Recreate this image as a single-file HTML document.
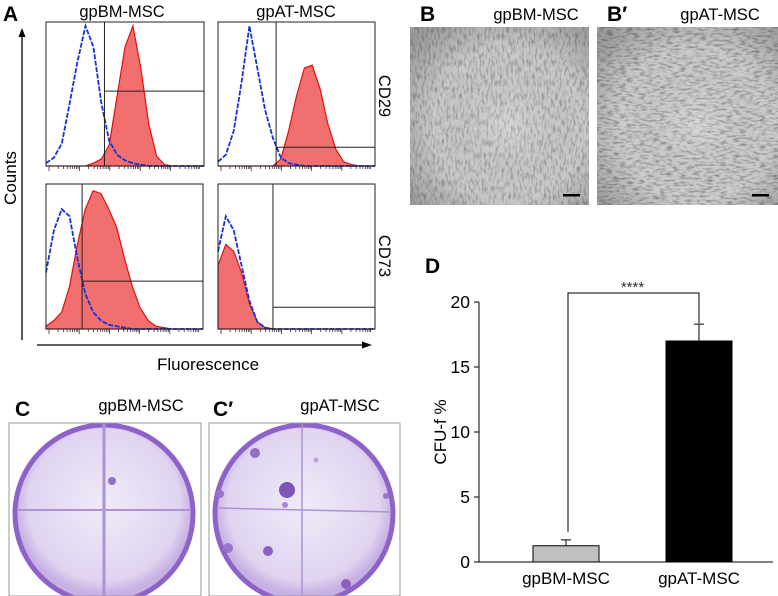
<!DOCTYPE html>
<html><head><meta charset="utf-8"><style>
html,body{margin:0;padding:0;background:#fff;}
svg{display:block;font-family:"Liberation Sans",Arial,sans-serif;}
</style></head><body>
<svg id="fig" width="778" height="596" viewBox="0 0 778 596" xmlns="http://www.w3.org/2000/svg">
<defs>
<filter id="cells" x="0" y="0" width="100%" height="100%">
<feTurbulence type="fractalNoise" baseFrequency="0.45 0.15" numOctaves="3" seed="3"/>
<feColorMatrix type="matrix" values="0 0 0 0 0.3  0 0 0 0 0.3  0 0 0 0 0.3  0 0 0 -2.4 1.35"/>
</filter>
<filter id="cells2" x="0" y="0" width="100%" height="100%">
<feTurbulence type="fractalNoise" baseFrequency="0.15 0.45" numOctaves="3" seed="8"/>
<feColorMatrix type="matrix" values="0 0 0 0 0.25  0 0 0 0 0.25  0 0 0 0 0.25  0 0 0 -2.4 1.35"/>
</filter>
<radialGradient id="vig" cx="55%" cy="55%" r="70%">
<stop offset="0" stop-color="#fff" stop-opacity="0.15"/><stop offset="0.6" stop-color="#000" stop-opacity="0.03"/><stop offset="1" stop-color="#000" stop-opacity="0.25"/>
</radialGradient>
<radialGradient id="plate" cx="50%" cy="45%" r="50%">
<stop offset="0" stop-color="#f0eaf8"/><stop offset="0.85" stop-color="#e0d4f0"/><stop offset="1" stop-color="#c7b0e3"/>
</radialGradient>
<clipPath id="clipC"><rect x="9" y="423" width="192" height="173"/></clipPath>
<clipPath id="clipC2"><rect x="209" y="423" width="191" height="173"/></clipPath>
</defs>

<text x="3" y="21" font-size="21" font-weight="bold">A</text>
<text x="122" y="17" font-size="16.5" text-anchor="middle">gpBM-MSC</text>
<text x="296" y="17" font-size="16.5" text-anchor="middle">gpAT-MSC</text>
<text transform="translate(16,178) rotate(-90)" font-size="17" text-anchor="middle">Counts</text>
<text x="208" y="370" font-size="17" text-anchor="middle">Fluorescence</text>
<text transform="translate(379,96) rotate(90)" font-size="16.5" text-anchor="middle">CD29</text>
<text transform="translate(379,256) rotate(90)" font-size="16.5" text-anchor="middle">CD73</text>
<g>
<line x1="22" y1="340" x2="22" y2="36" stroke="#000" stroke-width="1.3"/>
<polygon points="22,28 18.5,37 25.5,37" fill="#000"/>
</g>
<g>
<line x1="37" y1="345" x2="364" y2="345" stroke="#000" stroke-width="1.3"/>
<polygon points="372,345 362,341.5 362,348.5" fill="#000"/>
</g>
<g id="flow"></g>

<text x="420" y="21" font-size="21" font-weight="bold">B</text>
<text x="536" y="20" font-size="16.5" text-anchor="middle">gpBM-MSC</text>
<text x="607" y="21" font-size="21" font-weight="bold">B′</text>
<text x="720" y="20" font-size="16.5" text-anchor="middle">gpAT-MSC</text>
<g>
<rect x="410" y="27" width="179" height="178" fill="#d0d0d0"/>
<rect x="410" y="27" width="179" height="178" filter="url(#cells)"/>
<rect x="410" y="27" width="179" height="178" fill="url(#vig)"/>
<rect x="563" y="194" width="17" height="2.5" fill="#000"/>
</g>
<g>
<rect x="597" y="27" width="181" height="178" fill="#d2d2d2"/>
<rect x="597" y="27" width="181" height="178" filter="url(#cells2)"/>
<rect x="597" y="27" width="181" height="178" fill="url(#vig)"/>
<rect x="752" y="194" width="17" height="2.5" fill="#000"/>
</g>

<text x="15" y="416" font-size="21" font-weight="bold">C</text>
<text x="141" y="411" font-size="16.5" text-anchor="middle">gpBM-MSC</text>
<text x="213" y="416" font-size="21" font-weight="bold">C′</text>
<text x="340" y="411" font-size="16.5" text-anchor="middle">gpAT-MSC</text>
<g clip-path="url(#clipC)">
<circle cx="104" cy="514" r="89" fill="url(#plate)" stroke="#8d62c9" stroke-width="5"/>
<line x1="104" y1="422" x2="104" y2="598" stroke="#ad92d8" stroke-width="3"/>
<line x1="17" y1="510" x2="191" y2="510" stroke="#ad92d8" stroke-width="2"/>
<circle cx="112" cy="481" r="4" fill="#9270c6"/>
</g>
<rect x="9" y="423" width="192" height="173" fill="none" stroke="#999" stroke-width="1"/>
<g clip-path="url(#clipC2)">
<circle cx="304" cy="514" r="89" fill="url(#plate)" stroke="#8d62c9" stroke-width="5"/>
<line x1="302" y1="422" x2="302" y2="598" stroke="#ad92d8" stroke-width="1.5"/>
<line x1="217" y1="508" x2="391" y2="512" stroke="#ad92d8" stroke-width="1.5"/>
<circle cx="287" cy="490" r="8" fill="#7e55b8"/>
<circle cx="255" cy="453" r="5" fill="#946bc6"/>
<circle cx="268" cy="551" r="5" fill="#8c60c2"/>
<circle cx="228" cy="548" r="5" fill="#9a74c9"/>
<circle cx="220" cy="494" r="4" fill="#9a74c9"/>
<circle cx="285" cy="505" r="3" fill="#a787d2"/>
<circle cx="346" cy="584" r="5" fill="#8c60c2"/>
<circle cx="316" cy="460" r="2.5" fill="#b9a2dc"/>
<circle cx="386" cy="496" r="3" fill="#9a74c9"/>
</g>
<rect x="209" y="423" width="191" height="173" fill="none" stroke="#999" stroke-width="1"/>

<text x="425" y="273" font-size="21" font-weight="bold">D</text>
<g id="barchart"></g>
</svg>
<script>
const NS='http://www.w3.org/2000/svg';
function mk(tag,attrs,parent){const e=document.createElementNS(NS,tag);for(const k in attrs)e.setAttribute(k,attrs[k]);parent.appendChild(e);return e;}

const bmCd29Iso=[0.02,0.06,0.16,0.45,0.75,1.0,0.85,0.45,0.18,0.08,0.04,0.02,0.01,0,0,0,0,0,0,0,0];
const bmCd29Pos=[0,0,0,0,0,0,0.02,0.05,0.15,0.5,0.85,1.0,0.7,0.3,0.07,0.01,0,0,0,0,0];
const atCd29Iso=[0.03,0.08,0.25,0.6,1.0,0.7,0.4,0.2,0.06,0.02,0.01,0,0,0,0,0,0,0,0,0,0];
const atCd29Pos=[0,0,0,0,0,0,0,0,0.05,0.25,0.5,0.7,0.72,0.55,0.3,0.12,0.03,0.01,0,0,0];
const bmCd73Iso=[0.4,0.7,0.85,0.8,0.5,0.25,0.12,0.06,0.03,0.02,0.01,0,0,0,0,0,0,0,0,0,0];
const bmCd73Pos=[0.02,0.06,0.12,0.3,0.6,0.85,0.98,0.96,0.85,0.72,0.5,0.3,0.15,0.06,0.02,0.01,0,0,0,0,0];
const atCd73Iso=[0.55,0.8,0.7,0.45,0.2,0.05,0.01,0,0,0,0,0,0,0,0,0,0,0,0,0,0];
const atCd73Pos=[0.45,0.6,0.55,0.4,0.18,0.05,0.01,0,0,0,0,0,0,0,0,0,0,0,0,0,0];
const gateX=[0.37,0.37,0.23,0.35];
const gateY=[0.52,0.13,0.33,0.15];
const panels=[
 {name:'bm-cd29',x:46,y:22,w:158,h:144,iso:bmCd29Iso,pos:bmCd29Pos},
 {name:'at-cd29',x:218,y:22,w:157,h:144,iso:atCd29Iso,pos:atCd29Pos},
 {name:'bm-cd73',x:46,y:184,w:157,h:145,iso:bmCd73Iso,pos:bmCd73Pos},
 {name:'at-cd73',x:218,y:184,w:157,h:145,iso:atCd73Iso,pos:atCd73Pos}];
const flow=document.getElementById('flow');
panels.forEach((p,pi)=>{
  const g=mk('g',{},flow);
  
  
  const sx=i=>p.x+(i/(p.pos.length-1))*p.w;
  const sy=v=>p.y+p.h-v*(p.h-4);
  let d='M'+p.x+','+(p.y+p.h);
  p.pos.forEach((v,i)=>{d+=' L'+sx(i).toFixed(1)+','+sy(v).toFixed(1);});
  d+=' L'+(p.x+p.w)+','+(p.y+p.h)+' Z';
  const red=mk('path',{d:d,fill:'#f26f6f',stroke:'#e01010','stroke-width':1.2},g);
  
  
  let d2='';
  p.iso.forEach((v,i)=>{d2+=(i?' L':'M')+sx(i).toFixed(1)+','+sy(v).toFixed(1);});
  const blue=mk('path',{d:d2,fill:'none',stroke:'#1432d8','stroke-width':1.8,'stroke-dasharray':'5 1.5'},g);
  
  
  const frame=mk('rect',{x:p.x,y:p.y,width:p.w,height:p.h,fill:'none',stroke:'#222','stroke-width':1},g);
  
  
  const gx=p.x+gateX[pi]*p.w, gy=p.y+p.h-gateY[pi]*p.h;
  const gate=mk('path',{d:'M'+gx+','+p.y+' L'+gx+','+(p.y+p.h)+' M'+gx+','+gy+' L'+(p.x+p.w)+','+gy,fill:'none',stroke:'#222','stroke-width':1},g);
  
  
  let t='';
  for(let dec=0;dec<5;dec++){for(let k=1;k<10;k++){const xx=p.x+3+(dec+Math.log10(k))/5*(p.w-6);t+='M'+xx.toFixed(1)+','+(p.y+p.h)+' l0,'+(k==1?5:3)+' ';}}
  const ticks=mk('path',{d:t,stroke:'#333','stroke-width':0.8,fill:'none'},g);
  
  
});

const categories=['gpBM-MSC','gpAT-MSC'];
const values=[1.25,17.0];
const errors=[0.45,1.3];
const yTicks=[0,5,10,15,20];
const barColors=['#c0c0c0','#000000'];
const bc=document.getElementById('barchart');
const X0=479, Y0=562, PPU=13, XEND=773;
const ys=v=>Y0-v*PPU;
const xc=i=>566+i*133;
const BW=66;
const yax=mk('line',{x1:X0,y1:ys(20),x2:X0,y2:Y0,stroke:'#000','stroke-width':1},bc);


const xax=mk('line',{x1:X0,y1:Y0,x2:XEND,y2:Y0,stroke:'#000','stroke-width':1},bc);


yTicks.forEach(v=>{
  const tk=mk('line',{x1:X0-5,y1:ys(v),x2:X0,y2:ys(v),stroke:'#000','stroke-width':1},bc);
  
  
  const tl=mk('text',{x:X0-9,y:ys(v)+6,'font-size':17.5,'text-anchor':'end'},bc);
  tl.textContent=v;
  
  
});
const yt=mk('text',{transform:'translate(446,'+ys(10)+') rotate(-90)','font-size':17,'text-anchor':'middle'},bc);
yt.textContent='CFU-f %';


categories.forEach((c,i)=>{
  const top=values[i]+errors[i];
  const eb=mk('path',{d:'M'+xc(i)+','+ys(values[i])+' L'+xc(i)+','+ys(top)+' M'+(xc(i)-5)+','+ys(top)+' L'+(xc(i)+5)+','+ys(top),stroke:'#000','stroke-width':1},bc);
  
  
  const r=mk('rect',{x:xc(i)-BW/2,y:ys(values[i]),width:BW,height:values[i]*PPU,fill:barColors[i],stroke:'#000','stroke-width':1},bc);
  
  
  const lab=mk('text',{x:xc(i),y:Y0+22,'font-size':17,'text-anchor':'middle'},bc);
  lab.textContent=c;
  
  
});
const brY=293;
const br=mk('path',{d:'M'+(xc(0)+2)+','+(ys(values[0]+errors[0])-8)+' L'+(xc(0)+2)+','+brY+' L'+xc(1)+','+brY+' L'+xc(1)+','+(ys(values[1]+errors[1])-1),stroke:'#000','stroke-width':1,fill:'none'},bc);


const st=mk('text',{x:(xc(0)+xc(1))/2,y:brY-1,'font-size':15,'text-anchor':'middle','fill':'#333'},bc);
st.textContent='****';


</script>
</body></html>
